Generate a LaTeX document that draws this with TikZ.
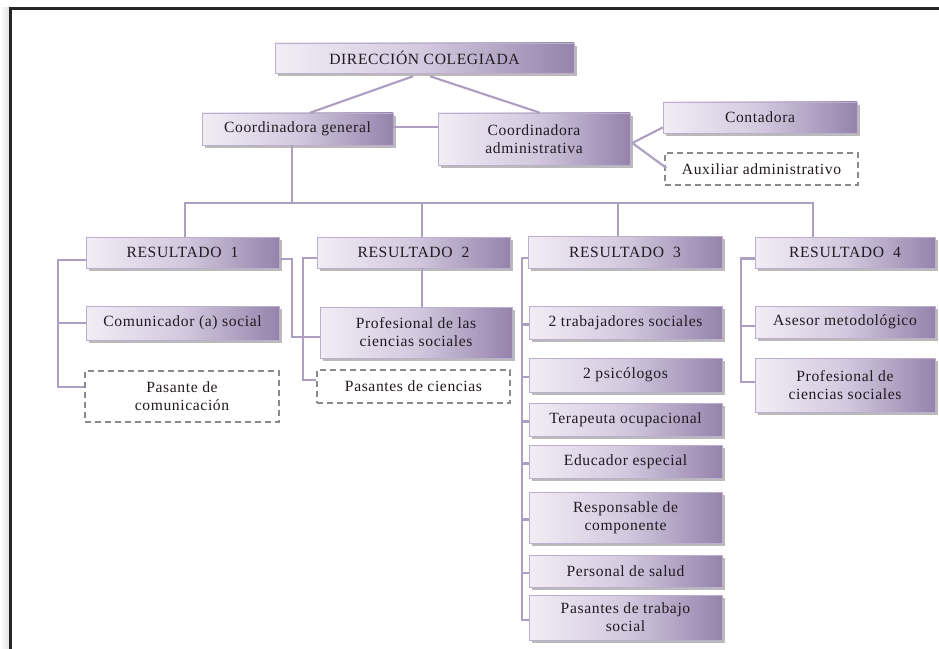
\documentclass[tikz,border=0pt]{standalone}
\usepackage{fontspec}
\setmainfont[LetterSpace=4]{Liberation Serif}
\usetikzlibrary{shadows,calc}
\definecolor{boxL}{HTML}{F1EDF5}
\definecolor{boxM}{HTML}{D3C9DF}
\definecolor{boxR}{HTML}{9583AC}
\definecolor{boxD}{HTML}{BCAFCB}
\definecolor{lineC}{HTML}{AC9FC1}
\definecolor{txtC}{HTML}{221A20}
\definecolor{dashC}{HTML}{8A8A8A}
\tikzset{
  sz/.style 2 args={minimum width=#1*0.75pt, minimum height=#2*0.75pt},
  basebox/.style={rectangle, inner sep=1pt, align=center, text=txtC,
    font=\fontsize{11.7}{13.5}\selectfont},
  pbox/.style={basebox, draw=boxD, line width=0.4pt,
    left color=boxL, right color=boxR, middle color=boxM,
    drop shadow={opacity=0.45, shadow xshift=2pt, shadow yshift=-2pt, fill=black!60}},
  dbox/.style={basebox, draw=dashC, fill=white, dashed, dash pattern=on 4.5pt off 3pt, line width=0.9pt},
  conn/.style={draw=lineC, line width=1.6pt}
}
\begin{document}
\begin{tikzpicture}[x=0.75pt, y=-0.75pt]
\useasboundingbox (0,0) rectangle (939,649);
% frame
\shade[left color=white, right color=black!12] (0,8) rectangle (9,649);
\draw[line width=1.8pt, black!85] (10.5,649) -- (10.5,8.5) -- (939,8.5);

% nodes
\node[pbox, sz={299}{30}] (dir) at (424.5,58) {DIRECCIÓN COLEGIADA};
\node[pbox, sz={191}{32}] (cg) at (297.5,129) {Coordinadora general};
\node[pbox, sz={192}{52}] (ca) at (534,139) {Coordinadora\\administrativa};
\node[pbox, sz={194}{31}] (cont) at (760,117.5) {Contadora};
\node[dbox, sz={193}{32}] (aux) at (761.5,169) {Auxiliar administrativo};

\node[pbox, sz={193}{31}] (r1) at (182.5,252.5) {RESULTADO~~1};
\node[pbox, sz={193}{31}] (r2) at (413.5,252.5) {RESULTADO~~2};
\node[pbox, sz={194}{32}] (r3) at (625,252) {RESULTADO~~3};
\node[pbox, sz={180}{31}] (r4) at (845,252.5) {RESULTADO~~4};

\node[pbox, sz={193}{34}] (com) at (182.5,323) {Comunicador (a) social};
\node[dbox, sz={194}{51}] (pas1) at (182,396.5) {Pasante de\\comunicación};

\node[pbox, sz={192}{51}] (prof) at (416,332.5) {Profesional de las\\ciencias sociales};
\node[dbox, sz={193}{33}] (pas2) at (413.5,386.5) {Pasantes de ciencias};

\node[pbox, sz={193}{33}] (t1) at (625.5,322.5) {2 trabajadores sociales};
\node[pbox, sz={193}{34}] (t2) at (625.5,375) {2 psicólogos};
\node[pbox, sz={193}{33}] (t3) at (625.5,419.5) {Terapeuta ocupacional};
\node[pbox, sz={193}{33}] (t4) at (625.5,461.5) {Educador especial};
\node[pbox, sz={193}{51}] (t5) at (625.5,517.5) {Responsable de\\componente};
\node[pbox, sz={193}{32}] (t6) at (625.5,571) {Personal de salud};
\node[pbox, sz={193}{45}] (t7) at (625.5,617.5) {Pasantes de trabajo\\social};

\node[pbox, sz={180}{32}] (a1) at (845,322) {Asesor metodológico};
\node[pbox, sz={180}{54}] (a2) at (845,385) {Profesional de\\ciencias sociales};

% connectors
\draw[conn] ($(dir.south)+(-11.5,3)$) -- ($(cg.north)+(12.5,0)$);
\draw[conn] ($(dir.south)+(5.5,3)$) -- ($(ca.north)+(6,0)$);
\draw[conn] ($(cg.east)+(0,-2)$) -- ($(ca.west)+(0,-12)$);
\draw[conn] ($(ca.east)+(2,4)$) -- ($(cont.west)+(0,10)$);
\draw[conn] ($(ca.east)+(2,4)$) -- ($(aux.west)+(2,-1)$);

\draw[conn] ($(cg.south)+(-5.5,0)$) -- ++(0,58) coordinate (bj);
\draw[conn] ($(r1.north)+(2.5,0)$) -- ++(0,-34) -| ($(r4.north)+(-32,0)$);
\draw[conn] ($(r2.north)+(8.5,0)$) -- ++(0,-34);
\draw[conn] ($(r3.north)+(-7,0)$) -- ++(0,-33);

% R1
\draw[conn] ($(r1.west)+(0,7.5)$) -- ++(-28,0) coordinate (l1) |- ($(pas1.west)+(0,-9.5)$);
\draw[conn] (com.west) -- (l1 |- com.west);
\draw[conn] ($(r1.east)+(0,6.5)$) -- ++(13,0) |- ($(prof.west)+(0,4.5)$);
% R2
\draw[conn] ($(r2.south)+(8.5,0)$) -- ($(prof.north)+(6,0)$);
\draw[conn] ($(r2.west)+(0,5.5)$) -- ++(-14,0) |- ($(pas2.west)+(0,-6.5)$);
% R3
\draw[conn] ($(r3.west)+(0,6)$) -- ++(-6,0) coordinate (l3) |- ($(t7.west)+(0,2.5)$);
\foreach \n in {t1,t2,t3,t4,t5,t6}{
  \draw[conn] ($(\n.west)+(0,2)$) -- (l3 |- {$(\n.west)+(0,2)$});
}
% R4
\draw[conn] ($(r4.west)+(0,6)$) -- ++(-14,0) coordinate (l4) |- ($(a2.west)+(0,-3)$);
\draw[conn] ($(a1.west)+(0,4)$) -- (l4 |- {$(a1.west)+(0,4)$});
\end{tikzpicture}
\end{document}
